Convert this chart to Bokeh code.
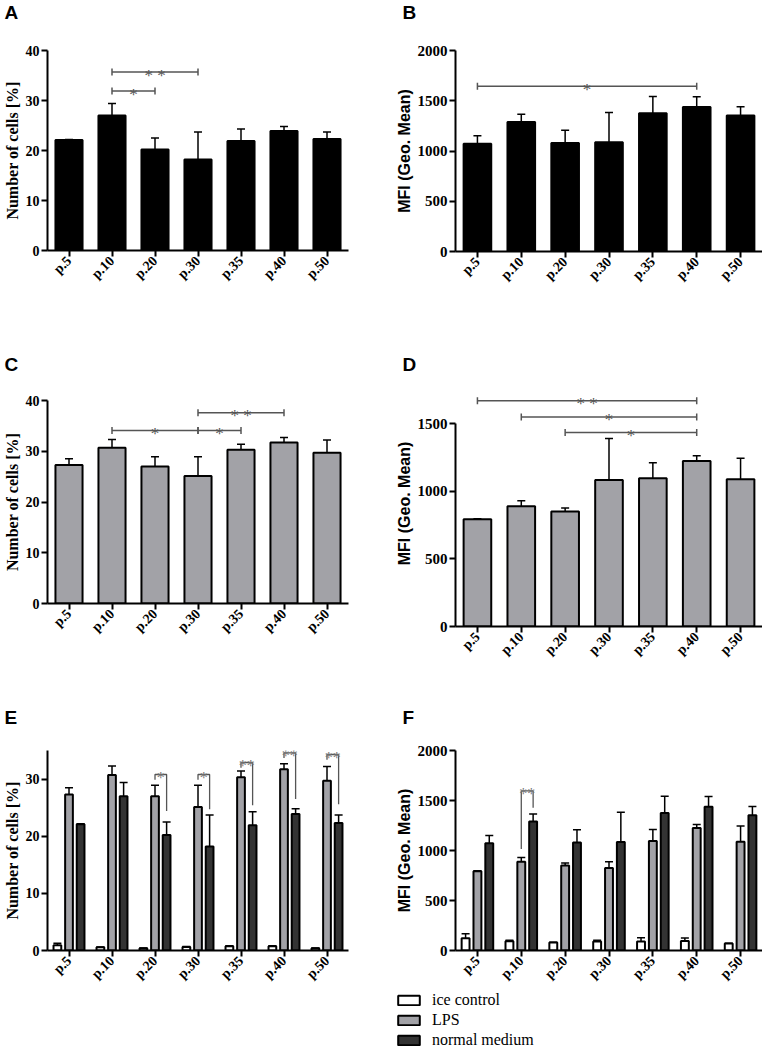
from math import pi
from bokeh.plotting import figure
from bokeh.layouts import column, row
from bokeh.models import (ColumnDataSource, Whisker, TeeHead, Legend, LegendItem,
                          FixedTicker, Range1d, FactorRange)
from bokeh.transform import dodge
from bokeh.core.properties import value
from bokeh.embed import file_html
from bokeh.resources import INLINE

# ---------------- data ----------------
passages = ["p.5", "p.10", "p.20", "p.30", "p.35", "p.40", "p.50"]

# Number of cells [%]
cells_normal = [22.1, 27.0, 20.2, 18.2, 21.9, 23.9, 22.3]
cells_normal_upper = [22.2, 29.4, 22.5, 23.7, 24.3, 24.8, 23.7]
cells_lps = [27.3, 30.7, 27.0, 25.1, 30.3, 31.7, 29.7]
cells_lps_upper = [28.5, 32.3, 28.9, 28.9, 31.4, 32.7, 32.2]
cells_ice = [0.92, 0.58, 0.40, 0.63, 0.75, 0.75, 0.40]
cells_ice_upper = [1.25, 0.62, 0.45, 0.70, 0.85, 0.85, 0.45]

# MFI (Geo. Mean)
mfi_normal = [1072, 1289, 1079, 1086, 1375, 1437, 1352]
mfi_normal_upper = [1151, 1365, 1207, 1382, 1543, 1539, 1441]
mfi_lps_d = [792, 888, 849, 1083, 1095, 1224, 1088]
mfi_lps_d_upper = [797, 930, 876, 1389, 1211, 1261, 1244]
mfi_lps_f = [792, 888, 849, 826, 1095, 1224, 1088]
mfi_lps_f_upper = [797, 930, 876, 888, 1211, 1261, 1244]
mfi_ice = [122, 92, 79, 89, 89, 95, 69]
mfi_ice_upper = [168, 102, 82, 102, 128, 125, 72]

# significance brackets (from, to, height, label)
sig_a = [("p.10", "p.30", 35.7, "* *"), ("p.10", "p.20", 31.9, "*")]
sig_b = [("p.5", "p.40", 1645, "*")]
sig_c = [("p.10", "p.30", 34.1, "*"), ("p.30", "p.35", 34.1, "*"), ("p.30", "p.40", 37.6, "* *")]
sig_d = [("p.5", "p.40", 1668, "* *"), ("p.10", "p.40", 1549, "*"), ("p.20", "p.40", 1434, "*")]

# LPS vs normal medium brackets in grouped panels
sig_e_cats = ["p.20", "p.30", "p.35", "p.40", "p.50"]
sig_e_top = [30.8, 30.8, 32.9, 34.6, 34.3]
sig_e_left = [29.9, 29.9, 32.0, 33.7, 33.4]
sig_e_right = [24.4, 24.7, 25.4, 26.5, 25.6]
sig_e_label = ["*", "*", "**", "**", "**"]

sig_f_cats = ["p.10"]
sig_f_top = [1596]
sig_f_left = [1015]
sig_f_right = [1428]
sig_f_label = ["**"]

series_names = ["ice control", "LPS", "normal medium"]

# ---------------- styling ----------------
WHITE = "#ffffff"
GREY = "#a2a2a7"
DARK = "#333333"
BLACK = "#000000"
SIG = "#555555"
SERIF = "Liberation Serif"
SANS = "Liberation Sans"

DODGE = 0.27


def make_fig(width, height, y_end, ticks, left_col, letter, mb, bounds=None):
    p = figure(x_range=FactorRange(*passages), y_range=Range1d(0, y_end),
               width=width, height=height, output_backend="svg",
               toolbar_location=None, min_border_left=mb[0], min_border_right=mb[1],
               min_border_top=mb[2], min_border_bottom=mb[3])
    p.outline_line_color = None
    p.grid.grid_line_color = None
    p.background_fill_color = None
    p.border_fill_color = None
    p.x_range.range_padding = 0
    for ax in [p.xaxis[0], p.yaxis[0]]:
        ax.axis_line_width = 2
        ax.axis_line_color = BLACK
        ax.major_tick_line_width = 2
        ax.major_tick_line_color = BLACK
        ax.major_tick_out = 6
        ax.major_tick_in = 0
        ax.minor_tick_line_color = None
        ax.major_label_text_font = SERIF
        ax.major_label_text_font_style = "bold"
        ax.major_label_text_color = BLACK
    p.xaxis.major_label_orientation = pi / 4
    p.xaxis.major_label_text_font_size = "14px"
    p.xaxis.major_label_standoff = 2
    p.yaxis.ticker = FixedTicker(ticks=ticks)
    p.yaxis.major_label_text_font_size = "14px" if left_col else "15px"
    p.yaxis.major_label_standoff = 2
    if bounds is not None:
        p.yaxis.bounds = bounds
    if left_col:
        p.yaxis.axis_label = "Number of cells [%]"
        p.yaxis.axis_label_text_font = SERIF
    else:
        p.yaxis.axis_label = "MFI (Geo. Mean)"
        p.yaxis.axis_label_text_font = SANS
    p.yaxis.axis_label_text_font_style = "bold"
    p.yaxis.axis_label_text_font_size = "16px"
    p.yaxis.axis_label_text_color = BLACK
    p.yaxis.axis_label_standoff = 2
    # panel letter
    text, offset, standoff, line_h = letter
    p.title.text = text
    p.title.text_font = SANS
    p.title.text_font_style = "bold"
    p.title.text_font_size = "19px"
    p.title.text_color = BLACK
    p.title.align = "left"
    p.title.offset = offset
    p.title.standoff = standoff
    p.title.vertical_align = "bottom"
    p.title.text_line_height = line_h
    return p


def pos(cat, off=0.0):
    return passages.index(cat) + 0.5 + off


def bars(p, vals, upper, color, off=0.0, width=0.63):
    src = ColumnDataSource(dict(x=passages, top=vals, upper=upper))
    xs = dodge("x", off, range=p.x_range) if off else "x"
    r = p.vbar(x=xs, top="top", width=width, source=src, fill_color=color,
               line_color=BLACK, line_width=2)
    w = Whisker(base=xs, lower="top", upper="upper", source=src,
                line_color=BLACK, line_width=1.5,
                upper_head=TeeHead(size=8, line_width=1.5, line_color=BLACK),
                lower_head=None)
    p.add_layout(w)
    return r


def brackets(p, sigs):
    for a, b, y, lab in sigs:
        x0, x1 = pos(a), pos(b)
        p.segment(x0=[x0], y0=[y], x1=[x1], y1=[y], line_color=SIG, line_width=1.5)
        p.scatter(x=[x0, x1], y=[y, y], marker="dash", angle=pi / 2, size=7,
                  line_color=SIG, line_width=1.5)
        p.text(x=[(x0 + x1) / 2], y=[y], text=[lab], text_align="center",
               text_baseline="alphabetic", y_offset=3, text_font=value(SERIF),
               text_font_size="17px", text_color="#555555")


def group_brackets(p, cats, tops, lefts, rights, labels):
    for c, t, l, r, lab in zip(cats, tops, lefts, rights, labels):
        x0, x1 = pos(c), pos(c, DODGE)
        p.multi_line(xs=[[x0, x0, x1, x1]], ys=[[l, t, t, r]], line_color=SIG,
                     line_width=1.3)
        p.text(x=[(x0 + x1) / 2], y=[t], text=[lab], text_align="center",
               text_baseline="alphabetic", y_offset=3, text_font=value(SERIF),
               text_font_size="16px", text_color="#777777")


LW, RW = 380, 382
LMB = (46, 32)
RMB = (75, 0)

# Row 1 (y 0-320)
pA = make_fig(LW, 320, 40, [0, 10, 20, 30, 40], True, ("A\n", -43, 0, 1.3), LMB + (50, 70))
bars(pA, cells_normal, cells_normal_upper, BLACK)
brackets(pA, sig_a)

pB = make_fig(RW, 320, 2000, [0, 500, 1000, 1500, 2000], False, ("B\n", -53, 0, 1.3),
              RMB + (50, 69))
bars(pB, mfi_normal, mfi_normal_upper, BLACK)
brackets(pB, sig_b)

# Row 2 (y 320-680)
pC = make_fig(LW, 360, 40, [0, 10, 20, 30, 40], True, ("C", -43, 52, 1.0), LMB + (80, 77))
bars(pC, cells_lps, cells_lps_upper, GREY)
brackets(pC, sig_c)

pD = make_fig(RW, 360, 1818, [0, 500, 1000, 1500], False, ("D", -53, 12, 1.0),
              RMB + (60, 54), bounds=(0, 1500))
bars(pD, mfi_lps_d, mfi_lps_d_upper, GREY)
brackets(pD, sig_d)

# Row 3 (y 680-989)
pE = make_fig(LW, 309, 35, [0, 10, 20, 30], True, ("E", -43, 46, 1.0), LMB + (70, 37),
              bounds=(0, 35))
bars(pE, cells_ice, cells_ice_upper, WHITE, -DODGE, 0.18)
bars(pE, cells_lps, cells_lps_upper, GREY, 0.0001, 0.18)
bars(pE, cells_normal, cells_normal_upper, DARK, DODGE, 0.18)
group_brackets(pE, sig_e_cats, sig_e_top, sig_e_left, sig_e_right, sig_e_label)

pF = make_fig(RW, 309, 2000, [0, 500, 1000, 1500, 2000], False, ("F", -53, 46, 1.0),
              RMB + (70, 37))
bars(pF, mfi_ice, mfi_ice_upper, WHITE, -DODGE, 0.18)
bars(pF, mfi_lps_f, mfi_lps_f_upper, GREY, 0.0001, 0.18)
bars(pF, mfi_normal, mfi_normal_upper, DARK, DODGE, 0.18)
group_brackets(pF, sig_f_cats, sig_f_top, sig_f_left, sig_f_right, sig_f_label)

# key strip (y 989-1049): hidden copies of F's bars feed the legend swatches
pL = figure(width=762, height=60, x_range=FactorRange(*passages), y_range=Range1d(0, 1),
            output_backend="svg", toolbar_location=None, x_axis_type=None,
            y_axis_type=None, min_border=0)
pL.outline_line_color = None
pL.background_fill_color = None
pL.border_fill_color = None
pL.grid.grid_line_color = None
key_src = ColumnDataSource(dict(x=passages, ice=mfi_ice, lps=mfi_lps_f, normal=mfi_normal))
k1 = pL.vbar(x="x", top="ice", width=0.18, source=key_src, fill_color=WHITE,
             line_color=BLACK, line_width=2, visible=False)
k2 = pL.vbar(x="x", top="lps", width=0.18, source=key_src, fill_color=GREY,
             line_color=BLACK, line_width=2, visible=False)
k3 = pL.vbar(x="x", top="normal", width=0.18, source=key_src, fill_color=DARK,
             line_color=BLACK, line_width=2, visible=False)
legend = Legend(items=[LegendItem(label=series_names[0], renderers=[k1]),
                       LegendItem(label=series_names[1], renderers=[k2]),
                       LegendItem(label=series_names[2], renderers=[k3])],
                location=(395, 0), orientation="vertical",
                glyph_width=27, glyph_height=12, label_height=19, spacing=1,
                padding=0, margin=0, label_standoff=10,
                label_text_font=SERIF, label_text_font_size="16px",
                label_text_color=BLACK, border_line_color=None,
                background_fill_alpha=0, inactive_fill_alpha=0)
pL.add_layout(legend, "center")

layout = column(row(column(pA, pC, pE), column(pB, pD, pF)), pL)

with open("out.html", "w") as f:
    f.write(file_html(layout, INLINE))
